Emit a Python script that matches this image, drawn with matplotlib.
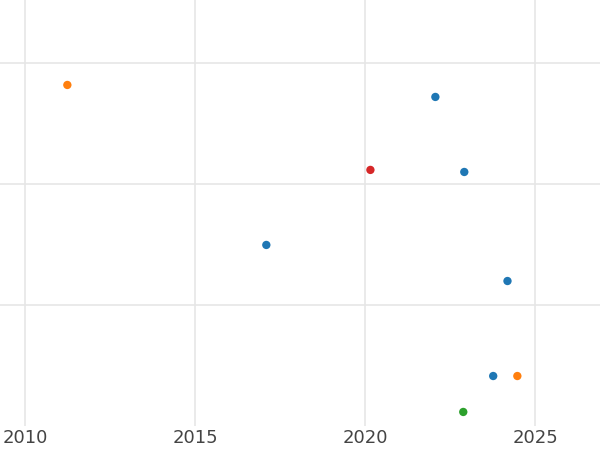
import matplotlib
matplotlib.use("Agg")
import matplotlib.pyplot as plt

# data
years = [2011.24, 2022.06, 2020.15, 2022.91, 2017.09, 2024.18, 2023.76, 2024.47, 2022.88]
values = [2.818, 2.719, 2.116, 2.099, 1.496, 1.198, 0.413, 0.413, 0.116]
colors = ["#ff7f0e", "#1f77b4", "#d62728", "#1f77b4", "#1f77b4",
          "#1f77b4", "#1f77b4", "#ff7f0e", "#2ca02c"]
xticks = [2010, 2015, 2020, 2025]
yticks = [1, 2, 3]

fig = plt.figure(figsize=(6, 4.5), dpi=100)
ax = fig.add_axes([0, 24 / 450, 1, 426 / 450])
ax.scatter(years, values, c=colors, s=36, zorder=3, linewidths=0)

ax.set_xlim(2009.26, 2026.9)
ax.set_ylim(0, 3.52)
ax.set_xticks(xticks)
ax.set_yticks(yticks)
ax.set_yticklabels([])
ax.grid(True, color="#e6e6e6", linewidth=1.2)
ax.set_axisbelow(True)
for s in ax.spines.values():
    s.set_visible(False)
ax.tick_params(axis="both", length=0, labelsize=13, labelcolor="#444444", pad=2)

fig.savefig("out.png")
